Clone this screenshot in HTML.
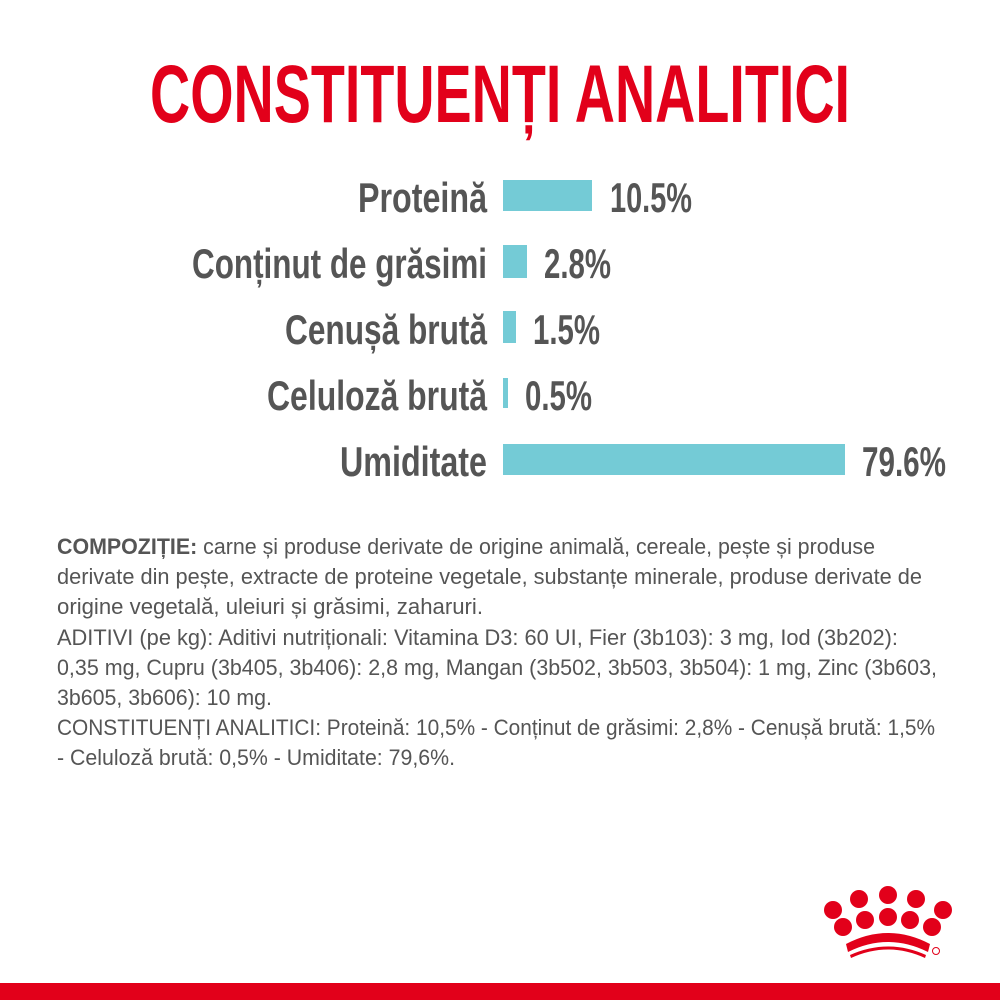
<!DOCTYPE html>
<html><head><meta charset="utf-8"><style>html,body{margin:0;padding:0;background:#fff}svg{display:block}</style></head>
<body>
<svg width="1000" height="1000" viewBox="0 0 1000 1000" xmlns="http://www.w3.org/2000/svg" font-family="Liberation Sans, sans-serif">
<rect width="1000" height="1000" fill="#fff"/>
<text x="150" y="122" font-size="82" font-weight="bold" fill="#e2001a" textLength="700" lengthAdjust="spacingAndGlyphs">CONSTITUENȚI ANALITICI</text>
<g font-size="42" font-weight="bold" fill="#555">
<text x="358" y="212" textLength="129" lengthAdjust="spacingAndGlyphs">Proteină</text>
<text x="192" y="278" textLength="295" lengthAdjust="spacingAndGlyphs">Conținut de grăsimi</text>
<text x="285" y="344" textLength="202" lengthAdjust="spacingAndGlyphs">Cenușă brută</text>
<text x="267" y="410" textLength="220" lengthAdjust="spacingAndGlyphs">Celuloză brută</text>
<text x="340" y="476" textLength="147" lengthAdjust="spacingAndGlyphs">Umiditate</text>
<text x="610" y="212" textLength="82" lengthAdjust="spacingAndGlyphs">10.5%</text>
<text x="544" y="278" textLength="67" lengthAdjust="spacingAndGlyphs">2.8%</text>
<text x="533" y="344" textLength="67" lengthAdjust="spacingAndGlyphs">1.5%</text>
<text x="525" y="410" textLength="67" lengthAdjust="spacingAndGlyphs">0.5%</text>
<text x="862" y="476" textLength="84" lengthAdjust="spacingAndGlyphs">79.6%</text>
</g>
<g fill="#74cbd6">
<rect x="503" y="180" width="89" height="31"/>
<rect x="503" y="245" width="24" height="33"/>
<rect x="503" y="311" width="13" height="32"/>
<rect x="503" y="378" width="5" height="30"/>
<rect x="503" y="444" width="342" height="31"/>
</g>
<g font-size="22" fill="#555">
<text x="57" y="554" textLength="818" lengthAdjust="spacingAndGlyphs"><tspan font-weight="bold">COMPOZIȚIE:</tspan> carne și produse derivate de origine animală, cereale, pește și produse</text>
<text x="57" y="584" textLength="865" lengthAdjust="spacingAndGlyphs">derivate din pește, extracte de proteine vegetale, substanțe minerale, produse derivate de</text>
<text x="57" y="614" textLength="426" lengthAdjust="spacingAndGlyphs">origine vegetală, uleiuri și grăsimi, zaharuri.</text>
<text x="57" y="645" textLength="841" lengthAdjust="spacingAndGlyphs">ADITIVI (pe kg): Aditivi nutriționali: Vitamina D3: 60 UI, Fier (3b103): 3  mg, Iod (3b202):</text>
<text x="57" y="675" textLength="880" lengthAdjust="spacingAndGlyphs">0,35  mg, Cupru (3b405, 3b406): 2,8  mg, Mangan (3b502, 3b503, 3b504): 1  mg, Zinc (3b603,</text>
<text x="57" y="705" textLength="215" lengthAdjust="spacingAndGlyphs">3b605, 3b606): 10  mg.</text>
<text x="57" y="735" textLength="878" lengthAdjust="spacingAndGlyphs">CONSTITUENȚI ANALITICI: Proteină: 10,5% - Conținut de grăsimi: 2,8% - Cenușă brută: 1,5%</text>
<text x="57" y="765" textLength="398" lengthAdjust="spacingAndGlyphs">- Celuloză brută: 0,5% - Umiditate: 79,6%.</text>
</g>
<g fill="#e2001a">
<circle cx="859" cy="899" r="9"/><circle cx="888" cy="895" r="9"/><circle cx="916" cy="899" r="9"/>
<circle cx="833" cy="910" r="9"/><circle cx="943" cy="910" r="9"/>
<circle cx="843" cy="927" r="9"/><circle cx="865" cy="920" r="9"/><circle cx="888" cy="917" r="9"/><circle cx="910" cy="920" r="9"/><circle cx="932" cy="927" r="9"/>
<path d="M846 944 Q888 922 930 944 L928 952 Q888 932 848 952 Z"/>
<path d="M850 955 Q888 938 926 955 L925 958 Q888 941 851 958 Z"/>
<circle cx="936" cy="951" r="3.5" fill="none" stroke="#e2001a" stroke-width="1"/>
<rect x="0" y="983" width="1000" height="17"/>
</g>
</svg>
</body></html>
